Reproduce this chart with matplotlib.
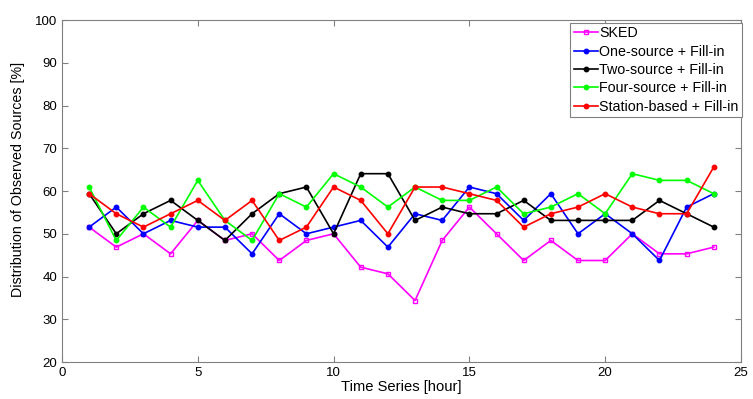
import matplotlib
matplotlib.use('Agg')
import matplotlib.pyplot as plt

plt.rcParams['font.family'] = ['Liberation Sans', 'DejaVu Sans']

hours = list(range(1, 25))

sked = [51.56, 46.88, 50.0, 45.31, 53.13, 48.44, 50.0, 43.75, 48.44, 50.0, 42.19, 40.63,
        34.38, 48.44, 56.25, 50.0, 43.75, 48.44, 43.75, 43.75, 50.0, 45.31, 45.31, 46.88]
one_source = [51.56, 56.25, 50.0, 53.13, 51.56, 51.56, 45.31, 54.69, 50.0, 51.56, 53.13, 46.88,
              54.69, 53.13, 60.94, 59.38, 53.13, 59.38, 50.0, 54.69, 50.0, 43.75, 56.25, 59.38]
two_source = [59.38, 50.0, 54.69, 57.81, 53.13, 48.44, 54.69, 59.38, 60.94, 50.0, 64.06, 64.06,
              53.13, 56.25, 54.69, 54.69, 57.81, 53.13, 53.13, 53.13, 53.13, 57.81, 54.69, 51.56]
four_source = [60.94, 48.44, 56.25, 51.56, 62.5, 53.13, 48.44, 59.38, 56.25, 64.06, 60.94, 56.25,
               60.94, 57.81, 57.81, 60.94, 54.69, 56.25, 59.38, 54.69, 64.06, 62.5, 62.5, 59.38]
station_based = [59.38, 54.69, 51.56, 54.69, 57.81, 53.13, 57.81, 48.44, 51.56, 60.94, 57.81, 50.0,
                 60.94, 60.94, 59.38, 57.81, 51.56, 54.69, 56.25, 59.38, 56.25, 54.69, 54.69, 65.63]

fig = plt.figure(figsize=(7.53, 3.99), dpi=100)
ax = fig.add_axes([0.0823, 0.0927, 0.9017, 0.857])

ax.plot(hours, sked, '-s', color='#ff00ff', lw=1.2, ms=3.5, mfc='none', mew=1.0, label='SKED')
ax.plot(hours, one_source, '-o', color='#0000ff', lw=1.2, ms=3.2, label='One-source + Fill-in')
ax.plot(hours, two_source, '-o', color='#000000', lw=1.2, ms=3.2, label='Two-source + Fill-in')
ax.plot(hours, four_source, '-o', color='#00ff00', lw=1.2, ms=3.2, label='Four-source + Fill-in')
ax.plot(hours, station_based, '-o', color='#ff0000', lw=1.2, ms=3.2, label='Station-based + Fill-in')

ax.set_xlim(0, 25)
ax.set_ylim(20, 100)
ax.set_xticks([0, 5, 10, 15, 20, 25])
ax.set_yticks(range(20, 101, 10))
ax.tick_params(direction='in', top=True, right=True, length=4, labelsize=9.5, color='#808080')
for s in ax.spines.values():
    s.set_color('#808080')

ax.set_xlabel('Time Series [hour]', fontsize=10.6, labelpad=1)
ax.set_ylabel('Distribution of Observed Sources [%]', fontsize=10.3)
ax.yaxis.set_label_coords(-0.055, 0.535)

leg = ax.legend(loc='upper right', bbox_to_anchor=(1.002, 0.992), fontsize=10.3,
                handlelength=1.7, handletextpad=0.1, borderpad=0.25, labelspacing=0.3,
                fancybox=False, framealpha=1, borderaxespad=0)
leg.get_frame().set_edgecolor('#808080')
leg.get_frame().set_linewidth(0.8)

fig.savefig('out.png', dpi=100)
